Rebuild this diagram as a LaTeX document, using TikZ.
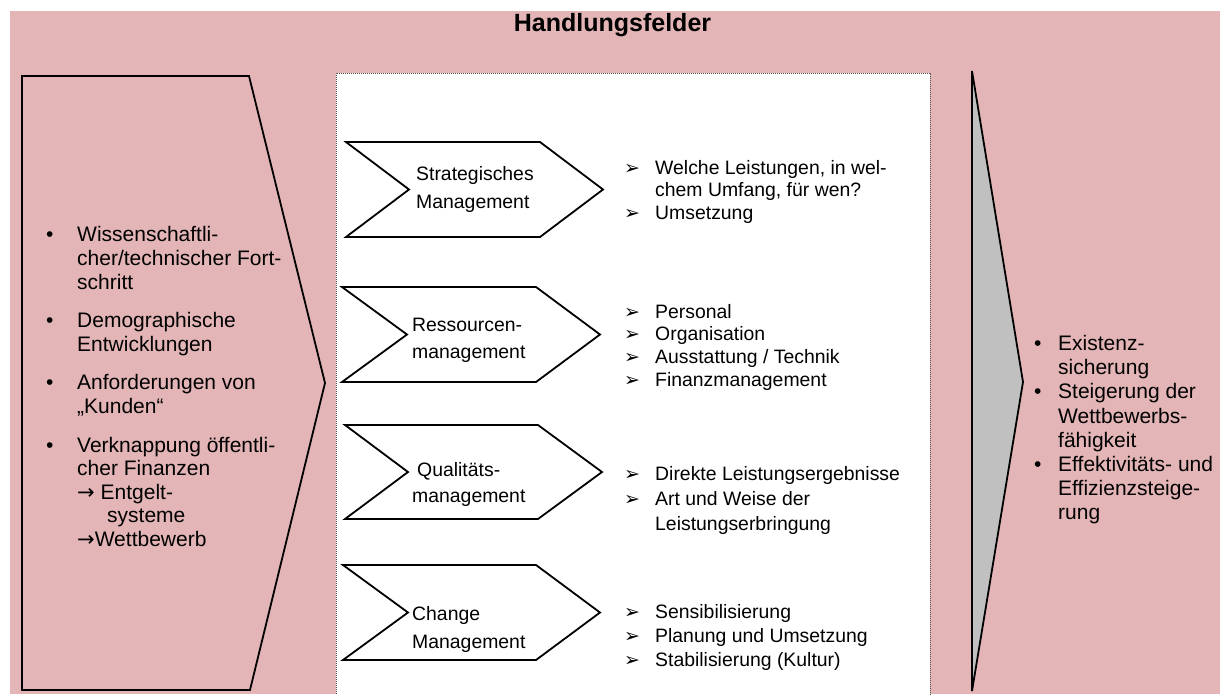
\documentclass[tikz,border=0pt]{standalone}
\usepackage{fontspec}
\setmainfont{Liberation Sans}
\newfontfamily\djv{DejaVu Sans}
\definecolor{bgpink}{RGB}{227,181,182}
\definecolor{arrgray}{RGB}{192,192,192}
\definecolor{dotgray}{RGB}{80,80,80}
\begin{document}
\begin{tikzpicture}[x=1pt,y=-1pt,
  outline/.style={draw=black,line width=1.8pt,line join=miter},
  ltxt/.style={anchor=west,inner sep=0pt,text height=0.7em,text depth=0pt,font=\fontsize{21}{24}\selectfont},
  mtxt/.style={anchor=west,inner sep=0pt,text height=0.7em,text depth=0pt,font=\fontsize{19.4}{23}\selectfont},
  arrbul/.style={anchor=west,inner sep=0pt,text height=0.7em,text depth=0pt,font=\djv\fontsize{19}{22}\selectfont},
  dotbul/.style={anchor=west,inner sep=0pt,text height=0.7em,text depth=0pt,font=\fontsize{21}{24}\selectfont},
]
% background
\fill[white] (0,0) rectangle (1220,694);
\fill[bgpink] (10,11) rectangle (1220,694);
\useasboundingbox (0,0) rectangle (1220,694);

% title
\node[font=\bfseries\fontsize{25}{30}\selectfont,inner sep=0pt] (title) at (612.5,25) {Handlungsfelder};

% left pentagon
\draw[outline] (22,76) -- (249,76) -- (325,383) -- (250,690) -- (22,690) -- cycle;

% middle box
\fill[white] (336,73) rectangle (930,694);
\draw[dotgray,line width=1pt,dash pattern=on 1pt off 1pt] (336,700) -- (336,73) -- (930,73) -- (930,700);

% right arrow
\draw[outline,fill=arrgray] (972,71) -- (1023,382) -- (972,691) -- cycle;

% chevrons
\draw[outline,fill=white] (346,142) -- (540,142) -- (603,189.5) -- (540,237) -- (346,237) -- (409,189.5) -- cycle;
\draw[outline,fill=white] (342,287) -- (536,287) -- (600,334.5) -- (536,382) -- (342,382) -- (407,334.5) -- cycle;
\draw[outline,fill=white] (345,425) -- (538,425) -- (602,472) -- (538,519) -- (345,519) -- (408,472) -- cycle;
\draw[outline,fill=white] (343,565) -- (536,565) -- (600,612.5) -- (536,660) -- (343,660) -- (408,612.5) -- cycle;

% chevron labels
\node[mtxt] (c1a) at (416,177) {Strategisches};
\node[mtxt] (c1b) at (416,205) {Management};
\node[mtxt] (c2a) at (412,328) {Ressourcen-};
\node[mtxt] (c2b) at (412,355) {management};
\node[mtxt] (c3a) at (417,473) {Qualitäts-};
\node[mtxt] (c3b) at (412,499) {management};
\node[mtxt] (c4a) at (412,617) {Change};
\node[mtxt] (c4b) at (412,645) {Management};

% middle lists
\node[arrbul] (a1) at (624,171) {➢};
\node[mtxt] (m1) at (655,171) {Welche Leistungen, in wel-};
\node[mtxt] (m2) at (655,193) {chem Umfang, für wen?};
\node[arrbul] (a2) at (624,216) {➢};
\node[mtxt] (m3) at (655,216) {Umsetzung};

\node[arrbul] (a3) at (624,315) {➢};
\node[mtxt] (m4) at (655,315) {Personal};
\node[arrbul] (a4) at (624,337) {➢};
\node[mtxt] (m5) at (655,337) {Organisation};
\node[arrbul] (a5) at (624,360) {➢};
\node[mtxt] (m6) at (655,360) {Ausstattung / Technik};
\node[arrbul] (a6) at (624,383) {➢};
\node[mtxt] (m7) at (655,383) {Finanzmanagement};

\node[arrbul] (a7) at (624,477) {➢};
\node[mtxt] (m8) at (655,477) {Direkte Leistungsergebnisse};
\node[arrbul] (a8) at (624,502) {➢};
\node[mtxt] (m9) at (655,502) {Art und Weise der};
\node[mtxt] (m10) at (655,527) {Leistungserbringung};

\node[arrbul] (a9) at (624,615) {➢};
\node[mtxt] (m11) at (655,615) {Sensibilisierung};
\node[arrbul] (a10) at (624,639) {➢};
\node[mtxt] (m12) at (655,639) {Planung und Umsetzung};
\node[arrbul] (a11) at (624,663) {➢};
\node[mtxt] (m13) at (655,663) {Stabilisierung (Kultur)};

% left list
\node[dotbul] (lb1) at (46,238) {•};
\node[ltxt] (l1) at (77,238) {Wissenschaftli-};
\node[ltxt] (l2) at (77,262) {cher/technischer Fort-};
\node[ltxt] (l3) at (77,285.5) {schritt};
\node[dotbul] (lb2) at (46,324) {•};
\node[ltxt] (l4) at (77,324) {Demographische};
\node[ltxt] (l5) at (77,347.5) {Entwicklungen};
\node[dotbul] (lb3) at (46,385.5) {•};
\node[ltxt] (l6) at (77,385.5) {Anforderungen von};
\node[ltxt] (l7) at (77,410) {„Kunden“};
\node[dotbul] (lb4) at (46,448.5) {•};
\node[ltxt] (l8) at (77,448.5) {Verknappung öffentli-};
\node[ltxt] (l9) at (77,472) {cher Finanzen};
\node[ltxt] (l10) at (77,495.5) {{\djv →} Entgelt-};
\node[ltxt] (l11) at (107,519) {systeme};
\node[ltxt] (l12) at (77,543) {{\djv →}Wettbewerb};

% right list
\node[dotbul] (rb1) at (1034,347) {•};
\node[ltxt] (r1) at (1058,347) {Existenz-};
\node[ltxt] (r2) at (1058,371.2) {sicherung};
\node[dotbul] (rb2) at (1034,395.4) {•};
\node[ltxt] (r3) at (1058,395.4) {Steigerung der};
\node[ltxt] (r4) at (1058,419.6) {Wettbewerbs-};
\node[ltxt] (r5) at (1058,443.8) {fähigkeit};
\node[dotbul] (rb3) at (1034,468) {•};
\node[ltxt] (r6) at (1058,468) {Effektivitäts- und};
\node[ltxt] (r7) at (1058,492.2) {Effizienzsteige-};
\node[ltxt] (r8) at (1058,516.4) {rung};
\end{tikzpicture}
\end{document}
